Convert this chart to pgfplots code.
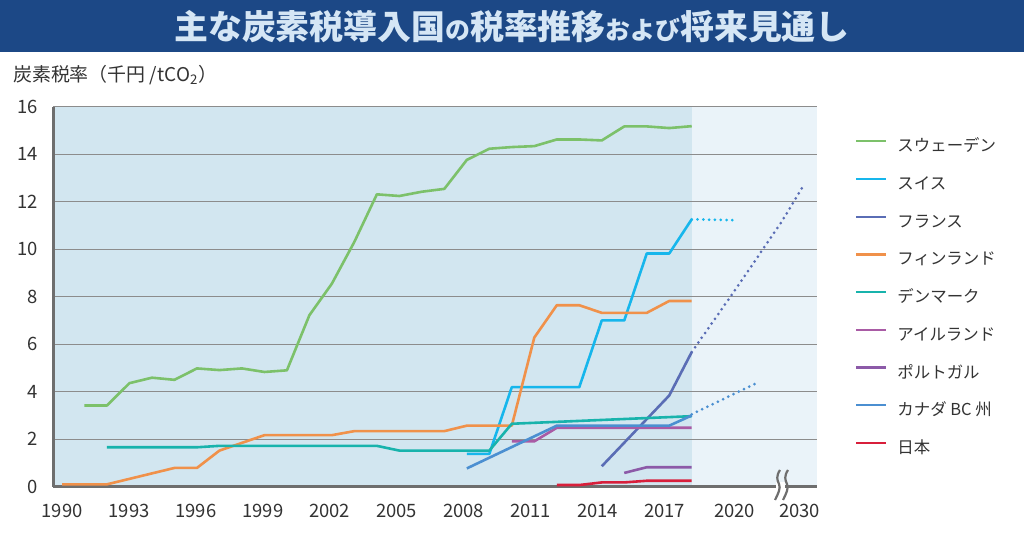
\documentclass[border=0pt]{standalone}
\usepackage{fontspec}
\setmainfont{Noto Sans CJK JP}
\usepackage{graphicx}
\usepackage{pgfplots}
\pgfplotsset{compat=1.18}
\definecolor{titlebg}{HTML}{1C4886}
\definecolor{titlefg}{HTML}{D5E6F5}
\definecolor{darkbg}{HTML}{D2E6F0}
\definecolor{lightbg}{HTML}{EAF3F9}
\definecolor{gridgray}{HTML}{8C8C8C}
\definecolor{axisgray}{HTML}{6E6E6E}
\definecolor{txt}{HTML}{333333}
\definecolor{swe}{HTML}{7CC16A}
\definecolor{swi}{HTML}{16B6EC}
\definecolor{fra}{HTML}{5A6DB5}
\definecolor{fin}{HTML}{F0914A}
\definecolor{den}{HTML}{18B3AC}
\definecolor{ire}{HTML}{A95BA5}
\definecolor{por}{HTML}{8C5AA8}
\definecolor{bc}{HTML}{4B8FD1}
\definecolor{jpn}{HTML}{D81F3B}
\begin{document}
\begin{tikzpicture}
\useasboundingbox (0bp,0bp) rectangle (1024bp,538bp);
\fill[white] (0bp,0bp) rectangle (1024bp,538bp);
\fill[titlebg] (0bp,486.3bp) rectangle (1024bp,538bp);
\node[text=titlefg, inner sep=0pt, font=\fontsize{34}{34}\selectfont\bfseries] at (512bp,511bp)
  {主な炭素税導入国{\fontsize{25}{25}\selectfont の}税率推移{\fontsize{25}{25}\selectfont および}将来見通し};
\node[anchor=west, text=txt, inner sep=0pt, font=\fontsize{19}{19}\selectfont] at (13bp,463bp)
  {炭素税率（千円 /tCO\textsubscript{2}）};
% plot area backgrounds (2018 boundary at x = 691.7bp)
\fill[darkbg] (53.3bp,51.3bp) rectangle (691.7bp,431.3bp);
\fill[lightbg] (691.7bp,51.3bp) rectangle (817bp,431.3bp);
\begin{axis}[
  at={(53.3bp,51.3bp)}, anchor=south west,
  width=763.7bp, height=380bp, scale only axis,
  xmin=1989.613, xmax=2023.57, ymin=0, ymax=16,
  axis x line*=bottom, axis y line*=left,
  axis line style={draw=axisgray, line width=3bp, -},
  ytick={0,2,...,16}, ymajorgrids,
  major grid style={gridgray, line width=1.2bp},
  xtick={1990,1992.98,1995.95,1998.93,2001.9,2004.88,2007.86,2010.84,2013.82,2016.8,2019.9,2022.8},
  xticklabels={1990,1993,1996,1999,2002,2005,2008,2011,2014,2017,2020,2030},
  major tick length=0pt,
  tick label style={font=\fontsize{18.5}{18.5}\selectfont, text=txt},
  /pgf/number format/assume math mode=true,
  yticklabel style={anchor=east, inner sep=0pt, xshift=-15.5bp},
  xticklabel style={anchor=north, inner sep=0pt, yshift=-17bp},
  legend style={at={(1.0498,0.916)}, anchor=north west, draw=none, fill=none,
    inner sep=0pt, row sep=21.7bp, column sep=10bp,
    font=\fontsize{16.5}{16.5}\selectfont, text=txt,
    nodes={inner sep=0pt, text height=13bp, text depth=3bp}},
  legend cell align=left,
  legend image code/.code={\draw[#1, line width=2.2bp] (0bp,5.5bp) -- (30bp,5.5bp);},
]
\addplot[color=swe, line width=2.6bp, line join=round] coordinates {(1991,3.42)(1992,3.42)(1993,4.36)(1994,4.59)(1995,4.50)(1996,4.98)(1997,4.91)(1998,4.98)(1999,4.83)(2000,4.90)(2001,7.22)(2002,8.55)(2003,10.31)(2004,12.31)(2005,12.24)(2006,12.42)(2007,12.54)(2008,13.76)(2009,14.23)(2010,14.30)(2011,14.34)(2012,14.62)(2013,14.62)(2014,14.58)(2015,15.17)(2016,15.17)(2017,15.10)(2018,15.18)};
\addlegendentry{スウェーデン}
\addplot[color=swi, line width=2.6bp, line join=round] coordinates {(2008,1.38)(2009,1.38)(2010,4.19)(2013,4.19)(2014,7.0)(2015,7.0)(2016,9.82)(2017,9.82)(2018,11.26)};
\addlegendentry{スイス}
\addplot[color=fra, line width=2.6bp, line join=round] coordinates {(2014,0.86)(2017,3.84)(2018,5.67)};
\addlegendentry{フランス}
\addplot[color=fin, line width=2.6bp, line join=round] coordinates {(1990,0.1)(1992,0.1)(1995,0.79)(1996,0.79)(1997,1.52)(1999,2.17)(2002,2.17)(2003,2.34)(2007,2.34)(2008,2.57)(2010,2.57)(2011,6.28)(2012,7.64)(2013,7.64)(2014,7.32)(2016,7.32)(2017,7.82)(2018,7.82)};
\addlegendentry{フィンランド}
\addplot[color=den, line width=2.6bp, line join=round] coordinates {(1992,1.66)(1996,1.66)(1997,1.72)(2004,1.72)(2005,1.52)(2009,1.52)(2010,2.65)(2018,2.97)};
\addlegendentry{デンマーク}
\addplot[color=ire, line width=2.6bp, line join=round] coordinates {(2010,1.91)(2011,1.91)(2012,2.48)(2018,2.48)};
\addlegendentry{アイルランド}
\addplot[color=por, line width=2.6bp, line join=round] coordinates {(2015,0.58)(2016,0.82)(2018,0.82)};
\addlegendentry{ポルトガル}
\addplot[color=bc, line width=2.6bp, line join=round] coordinates {(2008,0.77)(2012,2.57)(2017,2.57)(2018,3.0)};
\addlegendentry{カナダ BC 州}
\addplot[color=jpn, line width=2.6bp, line join=round] coordinates {(2012,0.07)(2013,0.07)(2014,0.18)(2015,0.18)(2016,0.25)(2018,0.25)};
\addlegendentry{日本}

\addplot[color=swi, forget plot, line width=3bp, line cap=round, dash pattern=on 0bp off 5.8bp] coordinates {(2018,11.26)(2020,11.22)};
\addplot[color=fra, forget plot, line width=3bp, line cap=round, dash pattern=on 0bp off 5.8bp] coordinates {(2018,5.67)(2020,8.38)(2022,11.16)(2023,12.73)};
\addplot[color=bc, forget plot, line width=3bp, line cap=round, dash pattern=on 0bp off 5.8bp] coordinates {(2018,3.05)(2020.85,4.35)};
\end{axis}
% axis break mark
\fill[white] (776bp,47bp) rectangle (785bp,56bp);
\draw[axisgray, line width=2.2bp] (780bp,68bp) .. controls (776bp,62bp) and (777bp,58bp) .. (779bp,54bp)
   .. controls (781bp,50bp) and (778bp,44bp) .. (775bp,38bp);
\draw[axisgray, line width=2.2bp] (788bp,68bp) .. controls (784bp,62bp) and (785bp,58bp) .. (787bp,54bp)
   .. controls (789bp,50bp) and (786bp,44bp) .. (783bp,38bp);
\end{tikzpicture}
\end{document}
